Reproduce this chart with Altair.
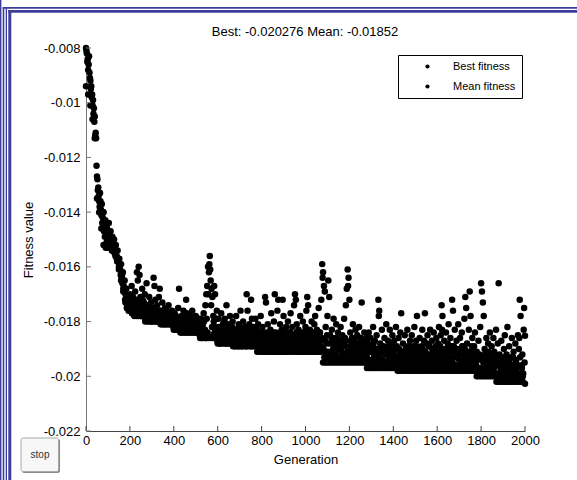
import altair as alt
import pandas as pd

# ---------------- data ----------------
best_gen = list(range(0, 2001, 10))
best_fitness = (
    [-0.0094, -0.0097, -0.0101, -0.0106, -0.0113, -0.0135, -0.0140, -0.0146, -0.0152, -0.0153,
     -0.0153, -0.0153, -0.0154, -0.0155, -0.0157, -0.0161, -0.0165, -0.0169, -0.0173, -0.0175,
     -0.0176, -0.0177]
    + [-0.0178] * 5 + [-0.0180] * 7 + [-0.0181] * 6 + [-0.0183] * 3 + [-0.0184] * 9
    + [-0.0186] * 8 + [-0.0188] * 7 + [-0.0189] * 11 + [-0.0191] * 30 + [-0.0195] * 20
    + [-0.0197] * 14 + [-0.0198] * 36 + [-0.0200] * 9 + [-0.0202] * 13 + [-0.020276]
)

# mean fitness, generations 0, 4, 8, ... 2000
mean_gen_a = list(range(0, 2001, 4))
mean_fitness_a = [
    -0.0080, -0.0082, -0.0084, -0.0086, -0.0089, -0.0092, -0.0094, -0.0097, -0.0099, -0.0102,
    -0.0105, -0.0111, -0.0123, -0.0128, -0.0131, -0.0136, -0.0133, -0.0139, -0.0137, -0.0142,
    -0.0140, -0.0145, -0.0143, -0.0148, -0.0146, -0.0150, -0.0144, -0.0151, -0.0147, -0.0152,
    -0.0149, -0.0153, -0.0150, -0.0155, -0.0152, -0.0156, -0.0154, -0.0158, -0.0157, -0.0161,
    -0.0159, -0.0163, -0.0162, -0.0167, -0.0165, -0.0170, -0.0168, -0.0172, -0.0171, -0.0174,
    -0.0170, -0.0174, -0.0167, -0.0175, -0.0172, -0.0176, -0.0169, -0.0174, -0.0162, -0.0165,
    -0.0160, -0.0163, -0.0171, -0.0175, -0.0168, -0.0177, -0.0173, -0.0170, -0.0176, -0.0166,
    -0.0174, -0.0178, -0.0171, -0.0176, -0.0173, -0.0179, -0.0175, -0.0164, -0.0167, -0.0172,
    -0.0177, -0.0174, -0.0179, -0.0171, -0.0168, -0.0176, -0.0179, -0.0173, -0.0177, -0.0180,
    -0.0175, -0.0178, -0.0176, -0.0180, -0.0174, -0.0179, -0.0177, -0.0180, -0.0176, -0.0178,
    -0.0181, -0.0177, -0.0182, -0.0179, -0.0181, -0.0175, -0.0168, -0.0180, -0.0183, -0.0178,
    -0.0181, -0.0176, -0.0183, -0.0179, -0.0172, -0.0177, -0.0182, -0.0180, -0.0183, -0.0178,
    -0.0181, -0.0176, -0.0183, -0.0179, -0.0182, -0.0178, -0.0183, -0.0180, -0.0184, -0.0181,
    -0.0183, -0.0179, -0.0185, -0.0181, -0.0177, -0.0184, -0.0174, -0.0170, -0.0167, -0.0160,
    -0.0162, -0.0156, -0.0165, -0.0168, -0.0171, -0.0178, -0.0167, -0.0170, -0.0182, -0.0176,
    -0.0184, -0.0179, -0.0186, -0.0182, -0.0177, -0.0185, -0.0181, -0.0187, -0.0179, -0.0183,
    -0.0174, -0.0185, -0.0181, -0.0187, -0.0178, -0.0184, -0.0186, -0.0180, -0.0188, -0.0183,
    -0.0186, -0.0178, -0.0184, -0.0187, -0.0181, -0.0185, -0.0176, -0.0183, -0.0188, -0.0180,
    -0.0185, -0.0182, -0.0187, -0.0170, -0.0176, -0.0184, -0.0181, -0.0186, -0.0172, -0.0179,
    -0.0185, -0.0182, -0.0188, -0.0179, -0.0184, -0.0187, -0.0181, -0.0189, -0.0185, -0.0178,
    -0.0186, -0.0182, -0.0189, -0.0184, -0.0171, -0.0173, -0.0187, -0.0181, -0.0185, -0.0189,
    -0.0183, -0.0177, -0.0186, -0.0188, -0.0180, -0.0170, -0.0184, -0.0187, -0.0176, -0.0172,
    -0.0186, -0.0181, -0.0189, -0.0183, -0.0172, -0.0178, -0.0185, -0.0188, -0.0182, -0.0186,
    -0.0180, -0.0188, -0.0184, -0.0177, -0.0186, -0.0182, -0.0189, -0.0174, -0.0170, -0.0172,
    -0.0181, -0.0186, -0.0183, -0.0189, -0.0178, -0.0185, -0.0187, -0.0180, -0.0184, -0.0188,
    -0.0182, -0.0176, -0.0171, -0.0174, -0.0186, -0.0183, -0.0189, -0.0180, -0.0185, -0.0187,
    -0.0181, -0.0178, -0.0186, -0.0183, -0.0189, -0.0175, -0.0184, -0.0187, -0.0172, -0.0159,
    -0.0162, -0.0167, -0.0169, -0.0182, -0.0188, -0.0178, -0.0165, -0.0171, -0.0185, -0.0191,
    -0.0183, -0.0188, -0.0179, -0.0192, -0.0186, -0.0181, -0.0189, -0.0184, -0.0190, -0.0187,
    -0.0182, -0.0191, -0.0185, -0.0188, -0.0179, -0.0186, -0.0174, -0.0168, -0.0161, -0.0164,
    -0.0172, -0.0184, -0.0190, -0.0186, -0.0181, -0.0192, -0.0188, -0.0183, -0.0190, -0.0185,
    -0.0189, -0.0182, -0.0191, -0.0186, -0.0173, -0.0188, -0.0192, -0.0184, -0.0190, -0.0187,
    -0.0193, -0.0188, -0.0184, -0.0191, -0.0186, -0.0194, -0.0189, -0.0182, -0.0192, -0.0187,
    -0.0190, -0.0185, -0.0193, -0.0172, -0.0176, -0.0188, -0.0191, -0.0183, -0.0194, -0.0189,
    -0.0186, -0.0192, -0.0181, -0.0190, -0.0187, -0.0194, -0.0183, -0.0189, -0.0192, -0.0185,
    -0.0190, -0.0187, -0.0193, -0.0182, -0.0189, -0.0195, -0.0186, -0.0191, -0.0184, -0.0177,
    -0.0192, -0.0188, -0.0195, -0.0185, -0.0190, -0.0193, -0.0183, -0.0189, -0.0196, -0.0187,
    -0.0191, -0.0185, -0.0194, -0.0189, -0.0182, -0.0192, -0.0187, -0.0178, -0.0190, -0.0195,
    -0.0186, -0.0193, -0.0189, -0.0183, -0.0191, -0.0187, -0.0177, -0.0194, -0.0188, -0.0185,
    -0.0192, -0.0189, -0.0183, -0.0195, -0.0187, -0.0191, -0.0184, -0.0193, -0.0189, -0.0186,
    -0.0194, -0.0188, -0.0182, -0.0191, -0.0185, -0.0174, -0.0178, -0.0193, -0.0187, -0.0190,
    -0.0184, -0.0192, -0.0188, -0.0181, -0.0195, -0.0186, -0.0190, -0.0172, -0.0176, -0.0189,
    -0.0183, -0.0193, -0.0187, -0.0190, -0.0181, -0.0194, -0.0186, -0.0191, -0.0184, -0.0189,
    -0.0192, -0.0179, -0.0171, -0.0175, -0.0188, -0.0194, -0.0183, -0.0169, -0.0178, -0.0191,
    -0.0186, -0.0193, -0.0189, -0.0184, -0.0195, -0.0191, -0.0197, -0.0187, -0.0193, -0.0182,
    -0.0166, -0.0169, -0.0173, -0.0178, -0.0190, -0.0195, -0.0186, -0.0192, -0.0188, -0.0197,
    -0.0184, -0.0193, -0.0189, -0.0196, -0.0186, -0.0191, -0.0194, -0.0183, -0.0199, -0.0188,
    -0.0166, -0.0192, -0.0197, -0.0187, -0.0194, -0.0199, -0.0190, -0.0185, -0.0196, -0.0192,
    -0.0182, -0.0195, -0.0189, -0.0198, -0.0193, -0.0186, -0.0196, -0.0191, -0.0199, -0.0188,
    -0.0194, -0.0197, -0.0185, -0.0190, -0.0172, -0.0178, -0.0196, -0.0192, -0.0199, -0.0175,
    -0.01852,
]

# mean fitness, generations 2, 6, 10, ... 1998
mean_gen_b = list(range(2, 2000, 4))
mean_fitness_b = [
    -0.0081, -0.0085, -0.0088, -0.0083, -0.0091, -0.0095, -0.0098, -0.0101, -0.0104, -0.0107,
    -0.0112, -0.0113, -0.0127, -0.0132, -0.0134, -0.0138, -0.0136, -0.0141, -0.0144, -0.0140,
    -0.0147, -0.0149, -0.0146, -0.0151, -0.0148, -0.0152, -0.0149, -0.0153, -0.0150, -0.0154,
    -0.0151, -0.0154, -0.0153, -0.0156, -0.0154, -0.0158, -0.0157, -0.0160, -0.0159, -0.0163,
    -0.0164, -0.0166, -0.0168, -0.0169, -0.0172, -0.0173, -0.0175, -0.0174, -0.0176, -0.0175,
    -0.0176, -0.0173, -0.0177, -0.0171, -0.0176, -0.0174, -0.0177, -0.0172, -0.0176, -0.0175,
    -0.0177, -0.0173, -0.0178, -0.0176, -0.0172, -0.0178, -0.0175, -0.0179, -0.0177, -0.0174,
    -0.0179, -0.0176, -0.0179, -0.0177, -0.0180, -0.0176, -0.0178, -0.0175, -0.0179, -0.0177,
    -0.0180, -0.0177, -0.0179, -0.0176, -0.0180, -0.0178, -0.0181, -0.0176, -0.0179, -0.0181,
    -0.0178, -0.0181, -0.0179, -0.0177, -0.0181, -0.0180, -0.0178, -0.0181, -0.0179, -0.0182,
    -0.0180, -0.0183, -0.0178, -0.0182, -0.0180, -0.0183, -0.0179, -0.0181, -0.0184, -0.0180,
    -0.0183, -0.0181, -0.0184, -0.0178, -0.0182, -0.0184, -0.0179, -0.0182, -0.0180, -0.0184,
    -0.0182, -0.0179, -0.0184, -0.0181, -0.0183, -0.0180, -0.0184, -0.0182, -0.0179, -0.0185,
    -0.0184, -0.0186, -0.0182, -0.0185, -0.0180, -0.0183, -0.0186, -0.0179, -0.0184, -0.0170,
    -0.0159, -0.0161, -0.0174, -0.0182, -0.0185, -0.0180, -0.0184, -0.0186, -0.0179, -0.0187,
    -0.0186, -0.0182, -0.0188, -0.0184, -0.0187, -0.0183, -0.0186, -0.0180, -0.0185, -0.0188,
    -0.0183, -0.0187, -0.0184, -0.0182, -0.0188, -0.0185, -0.0182, -0.0187, -0.0184, -0.0189,
    -0.0183, -0.0188, -0.0185, -0.0189, -0.0182, -0.0187, -0.0184, -0.0189, -0.0186, -0.0183,
    -0.0188, -0.0184, -0.0189, -0.0185, -0.0187, -0.0183, -0.0188, -0.0185, -0.0189, -0.0184,
    -0.0187, -0.0184, -0.0189, -0.0186, -0.0183, -0.0189, -0.0186, -0.0190, -0.0184, -0.0188,
    -0.0190, -0.0185, -0.0188, -0.0191, -0.0186, -0.0189, -0.0184, -0.0190, -0.0187, -0.0185,
    -0.0189, -0.0186, -0.0190, -0.0184, -0.0188, -0.0191, -0.0185, -0.0189, -0.0186, -0.0190,
    -0.0184, -0.0188, -0.0186, -0.0190, -0.0187, -0.0183, -0.0189, -0.0191, -0.0185, -0.0188,
    -0.0186, -0.0190, -0.0184, -0.0189, -0.0187, -0.0185, -0.0190, -0.0186, -0.0188, -0.0184,
    -0.0189, -0.0187, -0.0191, -0.0185, -0.0188, -0.0190, -0.0184, -0.0189, -0.0186, -0.0190,
    -0.0187, -0.0184, -0.0189, -0.0186, -0.0190, -0.0185, -0.0188, -0.0191, -0.0184, -0.0189,
    -0.0186, -0.0190, -0.0187, -0.0185, -0.0190, -0.0188, -0.0184, -0.0189, -0.0186, -0.0164,
    -0.0190, -0.0193, -0.0187, -0.0192, -0.0185, -0.0191, -0.0194, -0.0188, -0.0192, -0.0186,
    -0.0193, -0.0190, -0.0194, -0.0188, -0.0192, -0.0186, -0.0193, -0.0190, -0.0194, -0.0189,
    -0.0193, -0.0187, -0.0192, -0.0194, -0.0189, -0.0193, -0.0187, -0.0191, -0.0167, -0.0193,
    -0.0189, -0.0194, -0.0187, -0.0192, -0.0189, -0.0194, -0.0186, -0.0191, -0.0194, -0.0188,
    -0.0193, -0.0189, -0.0194, -0.0187, -0.0192, -0.0189, -0.0194, -0.0190, -0.0193, -0.0186,
    -0.0195, -0.0191, -0.0196, -0.0189, -0.0194, -0.0191, -0.0196, -0.0188, -0.0193, -0.0195,
    -0.0190, -0.0195, -0.0192, -0.0178, -0.0193, -0.0196, -0.0189, -0.0194, -0.0191, -0.0196,
    -0.0190, -0.0195, -0.0192, -0.0196, -0.0189, -0.0194, -0.0191, -0.0196, -0.0188, -0.0194,
    -0.0192, -0.0196, -0.0190, -0.0195, -0.0193, -0.0197, -0.0190, -0.0195, -0.0192, -0.0196,
    -0.0194, -0.0191, -0.0196, -0.0193, -0.0197, -0.0190, -0.0195, -0.0192, -0.0189, -0.0196,
    -0.0193, -0.0197, -0.0190, -0.0195, -0.0192, -0.0196, -0.0189, -0.0194, -0.0197, -0.0191,
    -0.0196, -0.0192, -0.0195, -0.0190, -0.0197, -0.0193, -0.0191, -0.0196, -0.0192, -0.0195,
    -0.0189, -0.0196, -0.0193, -0.0197, -0.0190, -0.0195, -0.0192, -0.0196, -0.0191, -0.0194,
    -0.0197, -0.0192, -0.0195, -0.0189, -0.0194, -0.0183, -0.0196, -0.0191, -0.0195, -0.0193,
    -0.0196, -0.0190, -0.0195, -0.0192, -0.0197, -0.0193, -0.0189, -0.0195, -0.0191, -0.0196,
    -0.0190, -0.0196, -0.0193, -0.0197, -0.0191, -0.0196, -0.0192, -0.0195, -0.0189, -0.0196,
    -0.0194, -0.0190, -0.0196, -0.0193, -0.0197, -0.0191, -0.0195, -0.0192, -0.0196, -0.0189,
    -0.0195, -0.0191, -0.0197, -0.0193, -0.0196, -0.0199, -0.0194, -0.0198, -0.0192, -0.0197,
    -0.0193, -0.0198, -0.0195, -0.0199, -0.0192, -0.0197, -0.0194, -0.0199, -0.0191, -0.0196,
    -0.0199, -0.0194, -0.0198, -0.0192, -0.0197, -0.0195, -0.0199, -0.0193, -0.0200, -0.0196,
    -0.0199, -0.0195, -0.0200, -0.0193, -0.0198, -0.0201, -0.0196, -0.0199, -0.0194, -0.0200,
    -0.0197, -0.0201, -0.0194, -0.0199, -0.0196, -0.0200, -0.0193, -0.0198, -0.0201, -0.0195,
    -0.0200, -0.0196, -0.0199, -0.0186, -0.0193, -0.0201, -0.0197, -0.0200, -0.0183, -0.0195,
]
assert len(best_fitness) == len(best_gen)
assert len(mean_fitness_a) == len(mean_gen_a)
assert len(mean_fitness_b) == len(mean_gen_b)

series_names = ["Best fitness", "Mean fitness"]
x_ticks = [0, 200, 400, 600, 800, 1000, 1200, 1400, 1600, 1800, 2000]
y_ticks = [-0.022, -0.02, -0.018, -0.016, -0.014, -0.012, -0.01, -0.008]
title_text = "Best: -0.020276 Mean: -0.01852"

df = pd.concat([
    pd.DataFrame({"gen": mean_gen_a, "value": mean_fitness_a, "series": series_names[1]}),
    pd.DataFrame({"gen": mean_gen_b, "value": mean_fitness_b, "series": series_names[1]}),
    pd.DataFrame({"gen": best_gen, "value": best_fitness, "series": series_names[0]}),
])

# ---------------- layout ----------------
W, H = 439, 383
PL, PT, PR, PB = 86, 48, 52, 49
FONT = "Liberation Sans"
BLUE = "#3d3d9c"

xscale = alt.Scale(domain=[0, 2000], nice=False, zero=False)
yscale = alt.Scale(domain=[-0.022, -0.008], nice=False, zero=False)
xaxis = alt.Axis(values=x_ticks, ticks=False, grid=False, labelFlush=False,
                 labelExpr="'' + datum.value", title="Generation",
                 domainColor="#444", labelPadding=3, titlePadding=6)
yaxis = alt.Axis(values=y_ticks, ticks=False, grid=False, labelFlush=False,
                 labelExpr="'' + datum.value", title="Fitness value",
                 domainColor="#777", labelPadding=6, titlePadding=8)

points = alt.Chart(df).mark_circle(size=42, opacity=1).encode(
    x=alt.X("gen:Q", scale=xscale, axis=xaxis),
    y=alt.Y("value:Q", scale=yscale, axis=yaxis),
    color=alt.Color("series:N",
                    scale=alt.Scale(domain=series_names, range=["black", "black"]),
                    legend=alt.Legend(title=None, orient="none", legendX=312, legendY=7,
                                      symbolType="circle", symbolSize=18,
                                      labelFontSize=11, labelFont=FONT, labelColor="black",
                                      strokeColor="black", fillColor="white",
                                      padding=6, rowPadding=8, symbolOffset=18,
                                      labelOffset=20)),
)

xt = alt.Chart(pd.DataFrame({"gen": x_ticks})).mark_rule(color="#444").encode(
    x=alt.X("gen:Q", scale=xscale, axis=xaxis), y=alt.value(H), y2=alt.value(H - 5))
yt = alt.Chart(pd.DataFrame({"value": y_ticks})).mark_rule(color="#777").encode(
    y=alt.Y("value:Q", scale=yscale, axis=yaxis), x=alt.value(0), x2=alt.value(5))

one = pd.DataFrame({"a": [0]})


def box(x0, x1, y0, y1, **kw):
    return alt.Chart(one).mark_rect(**kw).encode(
        x=alt.value(x0 - PL), x2=alt.value(x1 - PL),
        y=alt.value(y0 - PT), y2=alt.value(y1 - PT))


frame = [
    box(0, 1.4, 0, 480, color=BLUE),
    box(2.7, 4.3, 7, 480, color=BLUE),
    box(5.7, 7, 7, 480, color=BLUE),
    box(8.3, 11.3, 10, 480, color=BLUE),
    box(2.7, 577, 7, 8.7, color=BLUE),
    box(8.3, 577, 10, 12.7, color=BLUE),
]
button = [
    box(22, 60, 439, 473, color="#8a8a8a", cornerRadius=2),
    box(21, 58.5, 438, 471.5, fill="#f7f7f7", stroke="#a8a8a8", strokeWidth=1, cornerRadius=2),
]
stop_text = alt.Chart(one).mark_text(text="stop", font=FONT, fontSize=10, color="#333").encode(
    x=alt.value(40 - PL), y=alt.value(455 - PT))
title_mark = alt.Chart(one).mark_text(text=title_text, font=FONT, fontSize=13, color="black",
                                      baseline="alphabetic", align="center").encode(
    x=alt.value(305 - PL), y=alt.value(36 - PT))

chart = alt.layer(points, xt, yt, *frame, *button, stop_text, title_mark).properties(
    width=W, height=H,
    autosize=alt.AutoSizeParams(type="none"),
    padding={"left": PL, "top": PT, "right": PR, "bottom": PB},
    background="white",
).configure_view(stroke=None).configure_axis(
    labelFont=FONT, labelFontSize=13, labelColor="black",
    titleFont=FONT, titleFontSize=13, titleFontWeight="normal", titleColor="black",
)

chart.save("out.html", embed_options={"renderer": "svg", "actions": False})
